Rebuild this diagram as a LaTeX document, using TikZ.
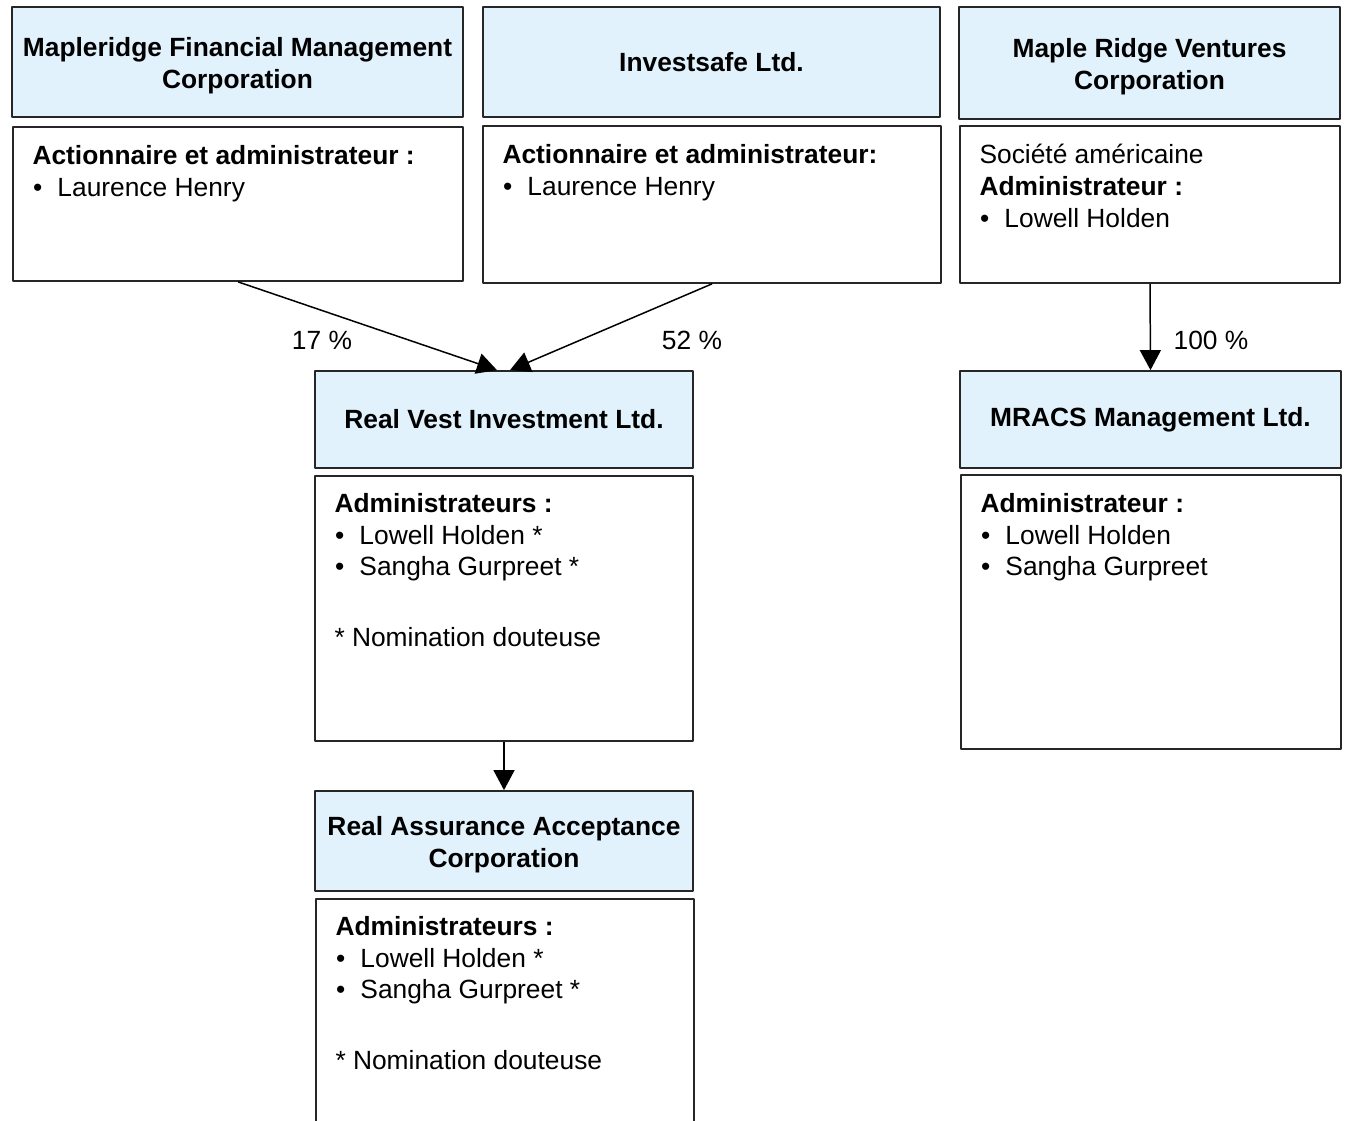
\documentclass[tikz,border=0pt]{standalone}
\usepackage{fontspec}
\setmainfont{Liberation Sans}
\usetikzlibrary{arrows.meta}
\definecolor{headblue}{RGB}{225,242,253}
\newcommand{\itm}{\makebox[14.2pt][l]{\hspace{0.3pt}•}}
\newcommand{\tstrut}{\rule{0pt}{15pt}}
\begin{document}
\begin{tikzpicture}[x=0.02cm,y=-0.02cm,line join=round,font=\fontsize{15}{18}\selectfont,
 box/.style={draw=black!85,line width=1pt,inner sep=0pt,minimum width=#1},
 head/.style={box=#1,fill=headblue,font=\fontsize{15}{18}\selectfont\bfseries,align=center},
 body/.style={box=#1,fill=white},
 txt/.style={anchor=north west,inner sep=0pt,align=left},
 pct/.style={inner sep=0pt},
 owns/.style={-{Triangle[width=0.42cm,length=0.4cm]},line width=0.85pt}]
 \useasboundingbox (0,0) rectangle (1348,1121);
 \clip (0,0) rectangle (1348,1121);
 % top row
 \node[head=9.02cm,minimum height=2.2cm] (mfmc) at (237.5,62) {\tstrut Mapleridge Financial Management\\Corporation};
 \node[body=9cm,minimum height=3.08cm] (mfmcbox) at (238,204) {};
 \node[txt] (mfmctxt) at ([shift={(20,19)}]mfmcbox.north west) {\textbf{Actionnaire et administrateur :}\\\itm Laurence Henry};
 \node[head=9.14cm,minimum height=2.2cm] (isl) at (711.5,62) {Investsafe Ltd.};
 \node[body=9.16cm,minimum height=3.14cm] (islbox) at (712,204.5) {};
 \node[txt] (isltxt) at ([shift={(20,19)}]islbox.north west) {\textbf{Actionnaire et administrateur:}\\\itm Laurence Henry};
 \node[head=7.62cm,minimum height=2.24cm] (mrv) at (1149.5,63) {\tstrut Maple Ridge Ventures\\Corporation};
 \node[body=7.6cm,minimum height=3.14cm] (mrvbox) at (1150,204.5) {};
 \node[txt] (mrvtxt) at ([shift={(20,19)}]mrvbox.north west) {Société américaine\\\textbf{Administrateur :}\\\itm Lowell Holden};
 % middle row
 \node[head=7.56cm,minimum height=1.94cm] (rv) at (504,419.5) {Real Vest Investment Ltd.};
 \node[body=7.56cm,minimum height=5.3cm] (rvbox) at (504,608.5) {};
 \node[txt] (rvtxt) at ([shift={(20,18)}]rvbox.north west) {\textbf{Administrateurs :}\\\itm Lowell Holden *\\\itm Sangha Gurpreet *\\[22pt]{*} Nomination douteuse};
 \node[head=7.62cm,minimum height=1.94cm] (mracs) at (1150.5,419.5) {MRACS Management Ltd.};
 \node[body=7.6cm,minimum height=5.48cm] (mracsbox) at (1151,612) {};
 \node[txt] (mracstxt) at ([shift={(20,19)}]mracsbox.north west) {\textbf{Administrateur :}\\\itm Lowell Holden\\\itm Sangha Gurpreet};
 % bottom
 \node[head=7.56cm,minimum height=2cm] (raac) at (504,841) {\tstrut Real Assurance Acceptance\\Corporation};
 \node[body=7.56cm,minimum height=6cm] (raacbox) at (505,1049) {};
 \node[txt] (raactxt) at ([shift={(20,18)}]raacbox.north west) {\textbf{Administrateurs :}\\\itm Lowell Holden *\\\itm Sangha Gurpreet *\\[22pt]{*} Nomination douteuse};
 % links
 \draw[owns] (mfmcbox.south) -- ([shift={(-7,0)}]rv.north);
 \draw[owns] (islbox.south) -- ([shift={(6,0)}]rv.north);
 \draw[owns] (mrvbox.south) -- (mracs.north);
 \draw[owns] (rvbox.south) -- (raac.north);
 \node[pct] (p17) at (322,340) {17 \%};
 \node[pct] (p52) at (692,340) {52 \%};
 \node[pct] (p100) at (1211,340) {100 \%};
\end{tikzpicture}
\end{document}
